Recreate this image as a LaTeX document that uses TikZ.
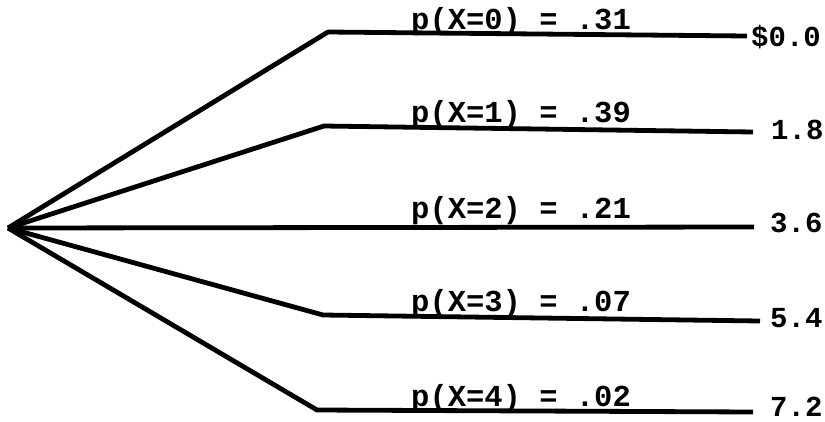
\documentclass[tikz,border=0pt]{standalone}
\usepackage{fontspec}
\setmonofont{Liberation Mono}
\begin{document}
\begin{tikzpicture}[x=1pt,y=-1pt,
  branch/.style={line width=4.8pt,line join=round,line cap=butt},
  prob/.style={anchor=base west,inner sep=0pt,font=\ttfamily\bfseries\fontsize{30.5}{31}\selectfont},
  val/.style={anchor=base west,inner sep=0pt,font=\ttfamily\bfseries\fontsize{29}{30}\selectfont}]
\useasboundingbox (0,0) rectangle (825,421);
\coordinate (root) at (8,228);
\coordinate (k0) at (328,32);
\coordinate (k1) at (324,126);
\coordinate (k3) at (323,315);
\coordinate (k4) at (317,410);
\coordinate (e0) at (747,36);
\coordinate (e1) at (753,132);
\coordinate (e2) at (754,227);
\coordinate (e3) at (760,321);
\coordinate (e4) at (753,412);
\draw[branch] (root) -- (k0) -- (e0);
\draw[branch] (root) -- (k1) -- (e1);
\draw[branch] (root) -- (e2);
\draw[branch] (root) -- (k3) -- (e3);
\draw[branch] (root) -- (k4) -- (e4);
\node[prob] (p0) at (411,29) {p(X=0) = .31};
\node[prob] (p1) at (411,122) {p(X=1) = .39};
\node[prob] (p2) at (411,218) {p(X=2) = .21};
\node[prob] (p3) at (411,311) {p(X=3) = .07};
\node[prob] (p4) at (411,406) {p(X=4) = .02};
\node[val] (v0) at (751,46) {\$0.0};
\node[val] (v1) at (771,139) {1.8};
\node[val] (v2) at (770,232) {3.6};
\node[val] (v3) at (770,327) {5.4};
\node[val] (v4) at (770,416) {7.2};
\end{tikzpicture}
\end{document}
